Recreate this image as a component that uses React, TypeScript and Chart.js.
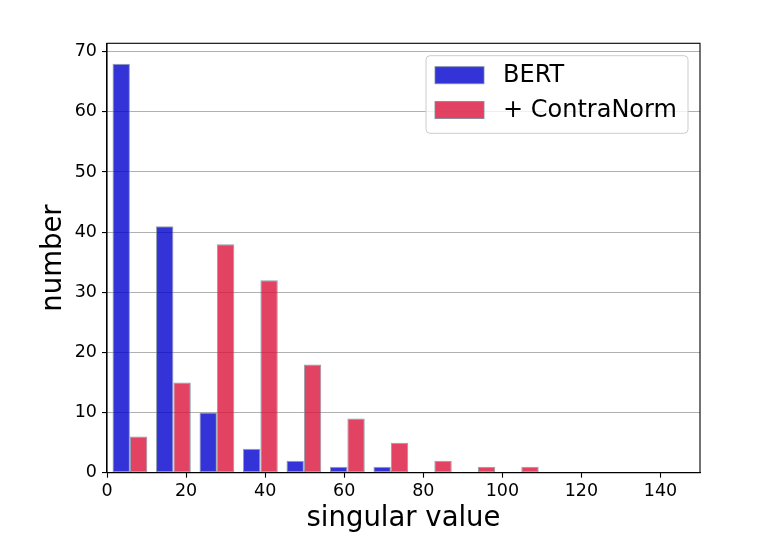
import { Chart, registerables } from "chart.js";
import { useEffect, useRef } from "react";

Chart.register(...registerables);

// istogramma: centri dei bin e conteggi
const binCenters = [5.8, 16.8, 27.8, 38.8, 49.8, 60.8, 71.8, 82.8, 93.8, 104.8];
const bertCounts = [68, 41, 10, 4, 2, 1, 1, 0, 0, 0];
const contraCounts = [6, 15, 38, 32, 18, 9, 5, 2, 1, 1];
const seriesLabels = ["BERT", "+ ContraNorm"];
const xTicks = [0, 20, 40, 60, 80, 100, 120, 140];
const yTicks = [0, 10, 20, 30, 40, 50, 60, 70];

const FONT = "'DejaVu Sans', sans-serif";

// cornice in alto e a destra + legenda disegnata a mano
const framePlugin = {
    id: "frameAndLegend",
    afterDraw(chart) {
        const { ctx, chartArea } = chart;
        ctx.save();
        ctx.strokeStyle = "#000";
        ctx.lineWidth = 1.1;
        ctx.strokeRect(chartArea.left, chartArea.top, chartArea.right - chartArea.left, chartArea.bottom - chartArea.top);

        const w = 262, h = 77.6;
        const bx = chartArea.right - 12 - w;
        const by = chartArea.top + 12.4;
        ctx.beginPath();
        ctx.roundRect(bx, by, w, h, 4);
        ctx.fillStyle = "rgba(255,255,255,0.8)";
        ctx.fill();
        ctx.strokeStyle = "#cccccc";
        ctx.lineWidth = 1;
        ctx.stroke();

        ctx.font = `24px ${FONT}`;
        ctx.textBaseline = "middle";
        ctx.textAlign = "left";
        chart.data.datasets.forEach((ds, i) => {
            const sy = by + 11 + i * 34.8;
            ctx.fillStyle = ds.backgroundColor;
            ctx.fillRect(bx + 9, sy, 49, 17);
            ctx.strokeStyle = ds.borderColor;
            ctx.strokeRect(bx + 9, sy, 49, 17);
            ctx.fillStyle = "#000";
            ctx.fillText(ds.label, bx + 77, sy + 8.8);
        });
        ctx.restore();
    },
};

export default function App() {
    const canvasRef = useRef(null);
    const chartRef = useRef(null);

    useEffect(() => {
        Chart.defaults.font.family = FONT;
        chartRef.current = new Chart(canvasRef.current, {
            type: "bar",
            data: {
                datasets: [
                    {
                        label: seriesLabels[0],
                        data: binCenters.map((x, i) => ({ x, y: bertCounts[i] })),
                        backgroundColor: "rgba(0,0,205,0.8)",
                        borderColor: "rgba(119,136,153,0.8)",
                        borderWidth: 1,
                        borderSkipped: false,
                    },
                    {
                        label: seriesLabels[1],
                        data: binCenters.map((x, i) => ({ x, y: contraCounts[i] })),
                        backgroundColor: "rgba(220,20,60,0.8)",
                        borderColor: "rgba(119,136,153,0.8)",
                        borderWidth: 1,
                        borderSkipped: false,
                    },
                ],
            },
            options: {
                animation: false,
                responsive: true,
                maintainAspectRatio: false,
                categoryPercentage: 0.8,
                barPercentage: 1,
                layout: { padding: { left: 0, top: 43.3, right: 61, bottom: 0 } },
                plugins: { legend: { display: false }, tooltip: { enabled: false } },
                scales: {
                    x: {
                        type: "linear",
                        min: 0,
                        max: 150,
                        offset: false,
                        afterBuildTicks: (s) => { s.ticks = xTicks.map((v) => ({ value: v })); },
                        afterFit: (s) => { s.height = 71.3; },
                        grid: { drawOnChartArea: false, offset: false, tickLength: 5, tickColor: "#000", tickWidth: 1.1 },
                        border: { color: "#000", width: 1.1 },
                        ticks: { color: "#000", font: { size: 17.5 }, padding: 3, maxRotation: 0, autoSkip: false },
                        title: { display: true, text: "singular value", color: "#000", font: { size: 27.5 }, padding: { top: 0, bottom: 9 } },
                    },
                    y: {
                        min: 0,
                        max: 71.4,
                        afterBuildTicks: (s) => { s.ticks = yTicks.map((v) => ({ value: v })); },
                        afterFit: (s) => { s.width = 107; },
                        grid: { color: "#b0b0b0", lineWidth: 1.1, tickLength: 5, tickColor: "#000", tickWidth: 1.1 },
                        border: { color: "#000", width: 1.1 },
                        ticks: { color: "#000", font: { size: 17.5 }, padding: 5 },
                        title: { display: true, text: "number", color: "#000", font: { size: 27.5 }, padding: { top: 37.5, bottom: 0 } },
                    },
                },
            },
            plugins: [framePlugin],
        });
        return () => chartRef.current?.destroy();
    }, []);

    return (
        <div style={{ position: "absolute", left: 0, top: 0, width: 761, height: 544 }}>
            <canvas ref={canvasRef} />
        </div>
    );
}
